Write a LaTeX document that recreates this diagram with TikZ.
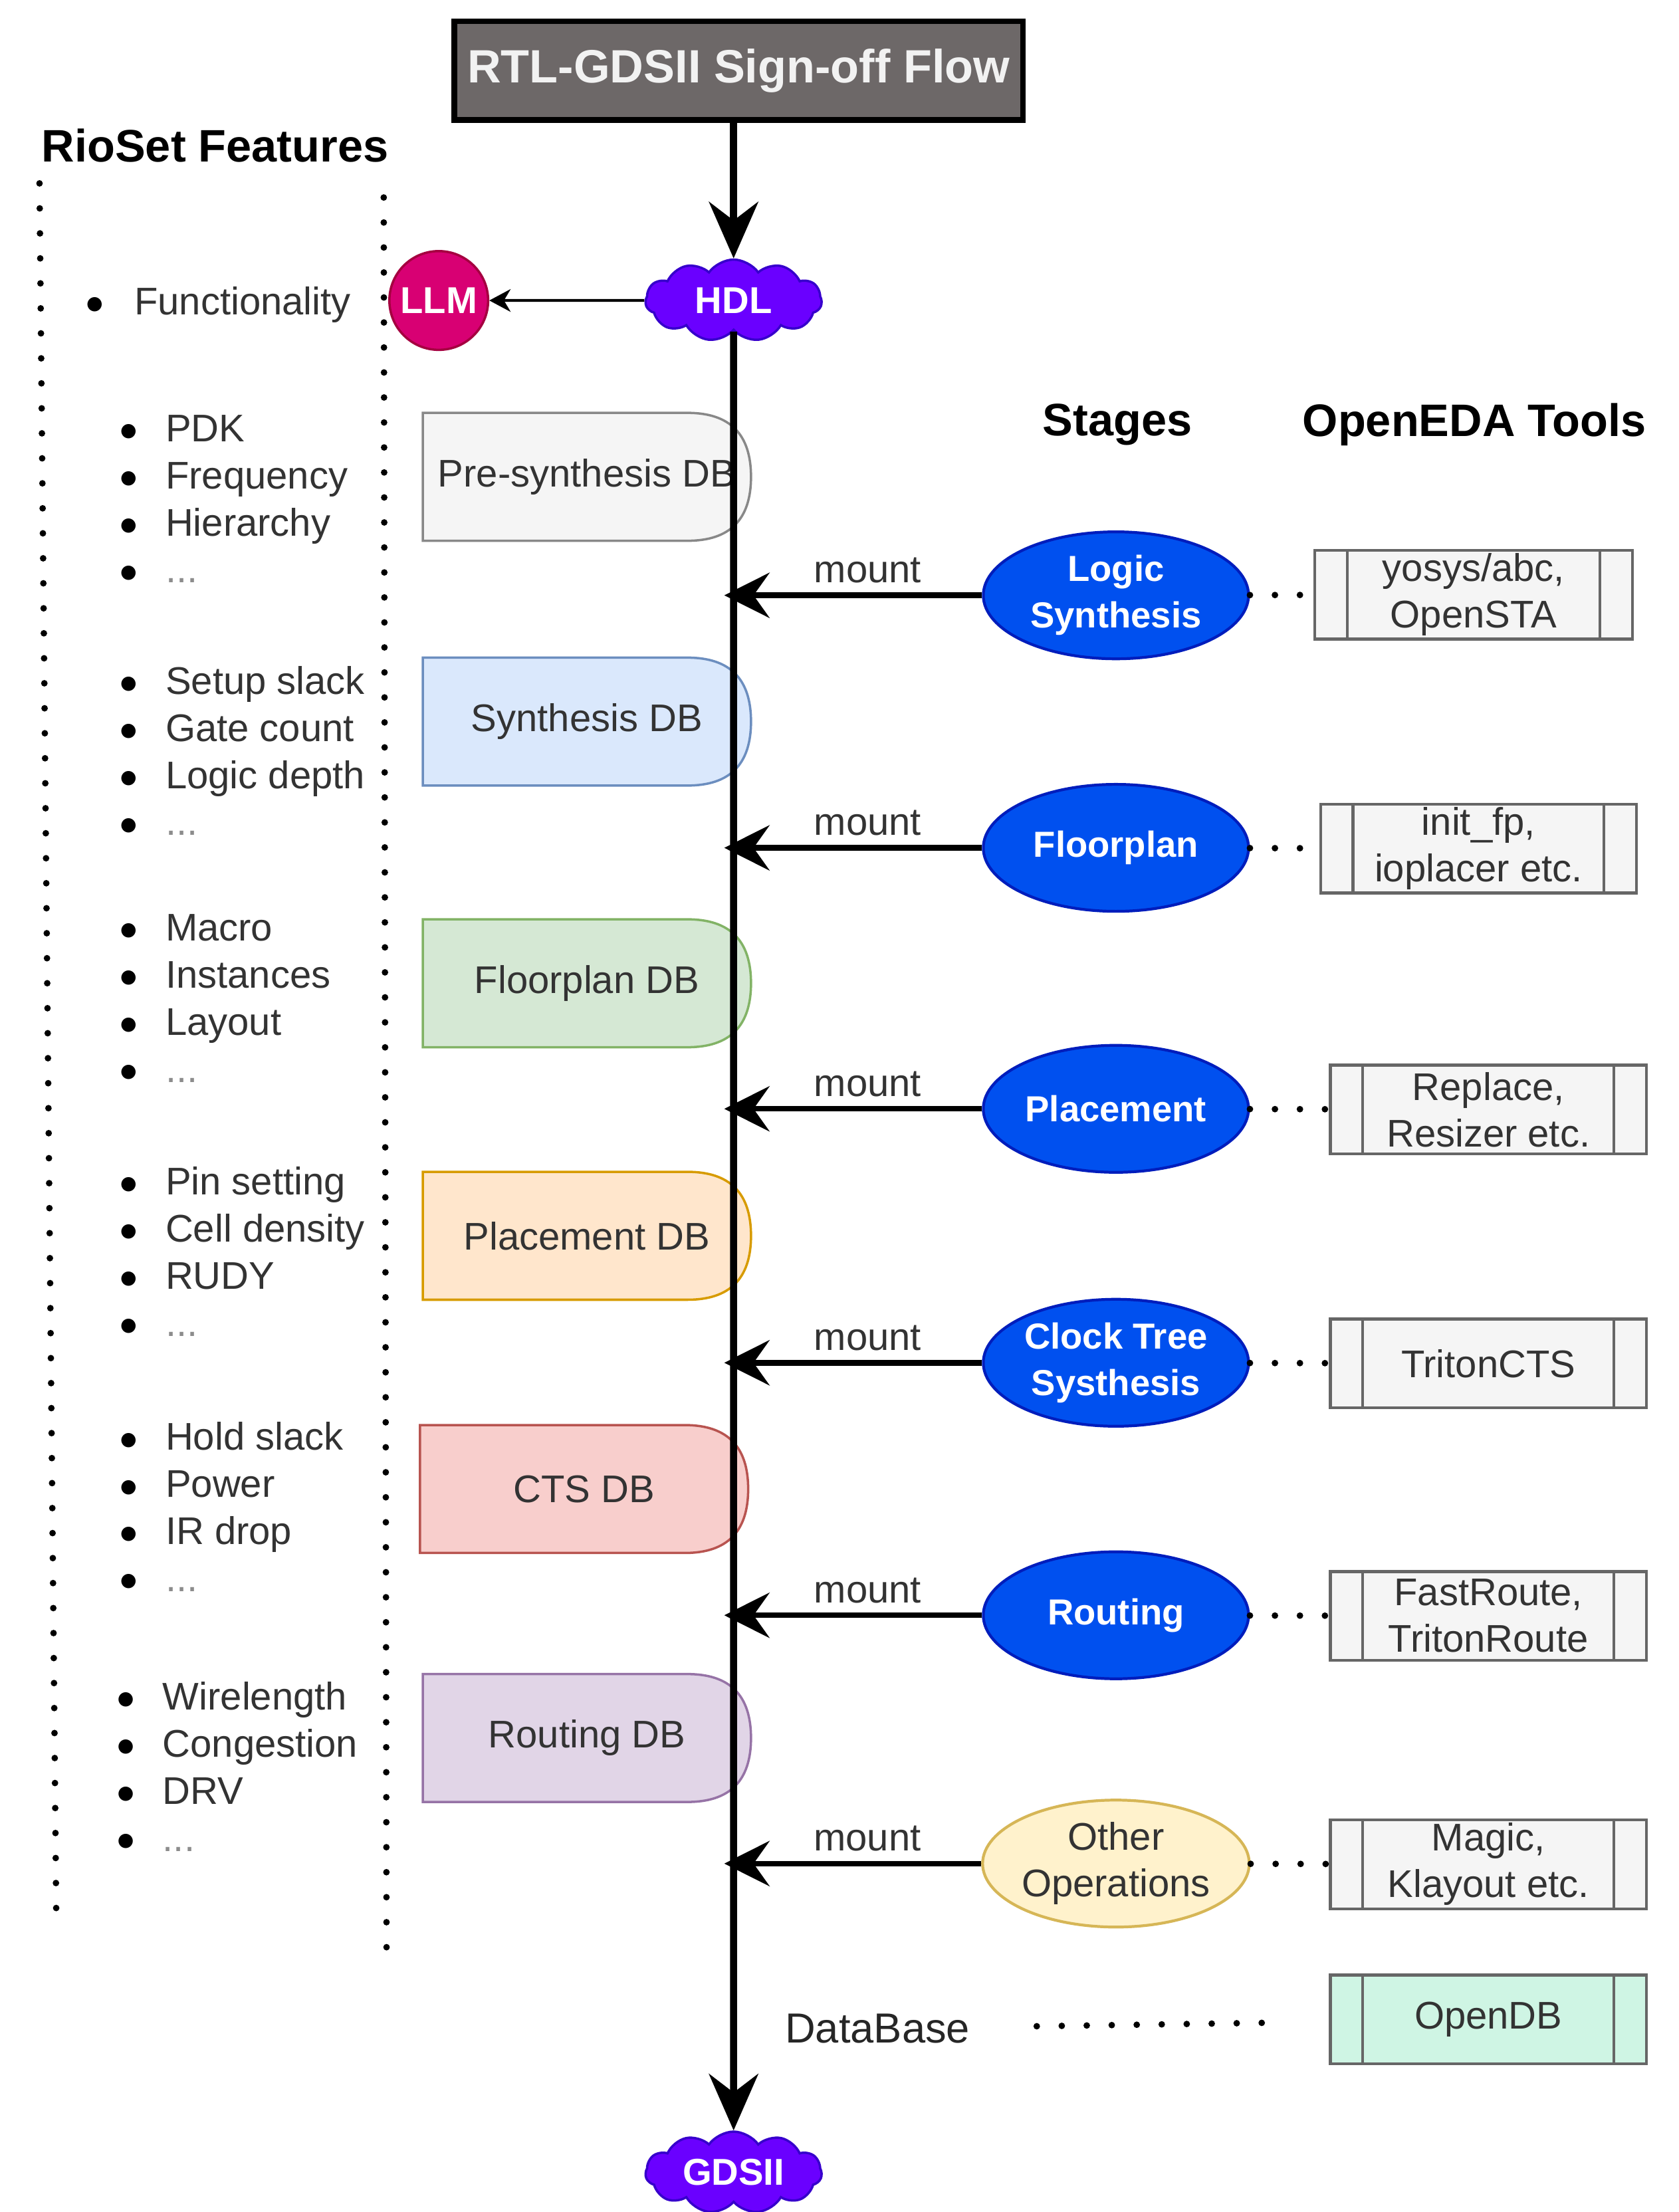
\documentclass[tikz,border=0pt]{standalone}
\usepackage{fontspec}
\setmainfont{Liberation Sans}
\newfontfamily\dejavu{DejaVu Sans}
\usetikzlibrary{arrows.meta,shapes.geometric,shapes.symbols,calc,backgrounds}

\definecolor{titlefill}{HTML}{6D6868}
\definecolor{titletext}{HTML}{F2F2F2}
\definecolor{hdlfill}{HTML}{6A00FF}
\definecolor{hdldraw}{HTML}{3700CC}
\definecolor{llmfill}{HTML}{D80073}
\definecolor{llmdraw}{HTML}{A50040}
\definecolor{stgfill}{HTML}{0050EF}
\definecolor{stgdraw}{HTML}{001DBC}
\definecolor{oofill}{HTML}{FFF2CC}
\definecolor{oodraw}{HTML}{D6B656}
\definecolor{toolfill}{HTML}{F5F5F5}
\definecolor{tooldraw}{HTML}{666666}
\definecolor{odbfill}{HTML}{CFF5E4}
\definecolor{txt}{HTML}{333333}
\definecolor{prefill}{HTML}{F5F5F5}\definecolor{predraw}{HTML}{888888}
\definecolor{synfill}{HTML}{DAE8FC}\definecolor{syndraw}{HTML}{6C8EBF}
\definecolor{fpfill}{HTML}{D5E8D4}\definecolor{fpdraw}{HTML}{82B366}
\definecolor{plfill}{HTML}{FFE6CC}\definecolor{pldraw}{HTML}{D79B00}
\definecolor{ctsfill}{HTML}{F8CECC}\definecolor{ctsdraw}{HTML}{B85450}
\definecolor{rtfill}{HTML}{E1D5E7}\definecolor{rtdraw}{HTML}{9673A6}

\newcommand\pxu{0.02122cm}
\newcommand\regfont{\fontsize{16.5}{19.9}\selectfont}
\newcommand\etcdots{\textcolor{black!45}{...}}
\newcommand\bigbul{\smash{\raisebox{2.2pt}{\dejavu\fontsize{8}{8}\selectfont\textcolor{black}{●}}}}
\newcommand\delayshape[3]{%
  \path[fill=#2, draw=#3, line width=1pt]
    (#1.north west) -- ($(#1.north east)+(-45,0)$)
    .. controls ($(#1.north east)+(-15,0)$) and ($(#1.north east)+(0,15)$) .. (#1.east)
    .. controls ($(#1.south east)+(0,-15)$) and ($(#1.south east)+(-15,0)$) .. ($(#1.south east)+(-45,0)$)
    -- (#1.south west) -- cycle;}

\tikzset{
  reg/.style={font=\regfont, text=txt},
  hdr/.style={font=\fontsize{19.5}{23}\selectfont\bfseries, text=black, inner sep=0},
  titlebox/.style={draw=black, line width=2.4pt, fill=titlefill, text=titletext,
    minimum width=403*\pxu, minimum height=70*\pxu, inner sep=0,
    font=\fontsize{20}{24}\selectfont\bfseries},
  cloudnode/.style={cloud, cloud puffs=11, cloud puff arc=110, cloud ignores aspect,
    fill=hdlfill, draw=hdldraw, line width=1pt, text=white, inner sep=0,
    minimum width=125*\pxu, minimum height=58*\pxu,
    font=\fontsize{16}{19}\selectfont\bfseries},
  llmnode/.style={circle, fill=llmfill, draw=llmdraw, line width=1pt, text=white,
    minimum size=70*\pxu, inner sep=0, font=\fontsize{16}{19}\selectfont\bfseries},
  dbnode/.style={rectangle, minimum width=232*\pxu, minimum height=90*\pxu, inner sep=0, reg},
  stage/.style={ellipse, minimum width=188*\pxu, minimum height=90*\pxu, inner sep=0,
    fill=stgfill, draw=stgdraw, line width=1.2pt, text=white, align=center,
    font=\fontsize{15.5}{19.9}\selectfont\bfseries},
  tool/.style={rectangle, minimum width=224*\pxu, minimum height=63*\pxu, inner sep=0,
    fill=toolfill, draw=tooldraw, line width=1.2pt, align=center, reg},
  feat/.style={reg, anchor=base west, inner sep=0},
  mainarrow/.style={line width=3pt, -{Stealth[length=0.85cm, width=0.74cm, inset=0.28cm]}},
  mountarrow/.style={line width=2.4pt, shorten >=-0.14cm,
    -{Stealth[length=0.68cm, width=0.68cm, inset=0.24cm]}},
  thinarrow/.style={line width=1.2pt, -{Stealth[length=0.32cm, width=0.34cm, inset=0.1cm]}},
  dotcon/.style={line width=2.8pt, line cap=round, dash pattern=on 0pt off 10.7pt},
}

\begin{document}
\begin{tikzpicture}[x=0.02122cm, y=-0.02122cm]
\useasboundingbox (0,0) rectangle (1190,1568);

% headers
\node[titlebox] (title) at (523.5,50) {RTL-GDSII Sign-off Flow};
\node[hdr] (rio) at (152.5,103) {RioSet Features};
\node[hdr] (stghdr) at (792,301) {Stages};
\node[hdr] (oedahdr) at (1045,301) {OpenEDA Tools};

% clouds and LLM
\node[cloudnode] (hdl) at (520,213) {HDL};
\node[cloudnode] (gds) at (520,1540) {GDSII};
\node[llmnode] (llm) at (311,213) {LLM};

% databases
\node[dbnode] (dbpre) at (416,338) {Pre-synthesis DB};
\node[dbnode] (dbsyn) at (416,511.5) {Synthesis DB};
\node[dbnode] (dbfp) at (416,697) {Floorplan DB};
\node[dbnode] (dbpl) at (416,876) {Placement DB};
\node[dbnode] (dbcts) at (414,1055.5) {CTS DB};
\node[dbnode] (dbrt) at (416,1232) {Routing DB};

\begin{scope}[on background layer]
\delayshape{dbpre}{prefill}{predraw}
\delayshape{dbsyn}{synfill}{syndraw}
\delayshape{dbfp}{fpfill}{fpdraw}
\delayshape{dbpl}{plfill}{pldraw}
\delayshape{dbcts}{ctsfill}{ctsdraw}
\delayshape{dbrt}{rtfill}{rtdraw}
\end{scope}

% stages
\node[stage] (ls) at (791,422) {Logic\\Synthesis};
\node[stage] (fp) at (791,601) {Floorplan};
\node[stage] (pl) at (791,786) {Placement};
\node[stage] (cts) at (791,966) {Clock Tree\\Systhesis};
\node[stage] (rt) at (791,1145) {Routing};
\node[stage, fill=oofill, draw=oodraw, text=txt, font=\regfont] (oo) at (791,1321) {Other\\Operations};

% tools
\node[tool, minimum width=225*\pxu] (t1) at (1044.5,421.5) {yosys/abc,\\OpenSTA};
\node[tool] (t2) at (1048,601.5) {init\_fp,\\ioplacer etc.};
\node[tool] (t3) at (1055,786.5) {Replace,\\Resizer etc.};
\node[tool] (t4) at (1055,966.5) {TritonCTS};
\node[tool] (t5) at (1055,1145.5) {FastRoute,\\TritonRoute};
\node[tool] (t6) at (1055,1321.5) {Magic,\\Klayout etc.};
\node[tool, fill=odbfill] (t7) at (1055,1431.5) {OpenDB};
\foreach \t in {t1,t2,t3,t4,t5,t6,t7}
  \draw[tooldraw, line width=1.2pt]
    ($(\t.north west)+(24,0)$) -- ($(\t.south west)+(24,0)$)
    ($(\t.north east)+(-24,0)$) -- ($(\t.south east)+(-24,0)$);

\node[reg, font=\fontsize{18}{21}\selectfont, text=black!85, inner sep=0] (dbl) at (622,1438) {DataBase};

% features
\node[feat] (f0) at (61,223) {\makebox[0.72cm][l]{\bigbul}Functionality};
\foreach \g/\bx/\by/\items in {
  1/85/303/{PDK,Frequency,Hierarchy,\etcdots},
  2/85/482/{Setup slack,Gate count,Logic depth,\etcdots},
  3/85/657/{Macro,Instances,Layout,\etcdots},
  4/85/837/{Pin setting,Cell density,RUDY,\etcdots},
  5/85/1018/{Hold slack,Power,IR drop,\etcdots},
  6/83/1202/{Wirelength,Congestion,DRV,\etcdots}}{
  \foreach \t [count=\i] in \items {
    \node[feat] (g\g-\i) at (\bx,{\by+10+(\i-1)*33.4}) {\makebox[0.68cm][l]{\bigbul}\t};
  }
}
\coordinate (fl1) at (28,130);
\coordinate (fl2) at (40,1370);
\coordinate (fr1) at (272,140);
\coordinate (fr2) at (274,1383);
\draw[dotcon] (fl1) -- (fl2);
\draw[dotcon] (fr1) -- (fr2);

% connectors
\draw[mainarrow] (title.south -| hdl.north) -- (hdl);
\draw[mainarrow] (hdl) -- (gds);
\draw[thinarrow] (hdl) -- (llm);
\foreach \s in {ls,fp,pl,cts,rt,oo}
  \draw[mountarrow] (\s) -- (\s -| hdl)
    node[pos=0.46, above=4pt, reg, inner sep=0] (m\s) {mount};
\draw[dotcon] (ls) -- (t1);
\draw[dotcon] (fp) -- (t2);
\draw[dotcon] (pl) -- (t3);
\draw[dotcon] (cts) -- (t4);
\draw[dotcon] (rt) -- (t5);
\draw[dotcon] (oo) -- (t6);
\draw[dotcon, shorten <=1cm, shorten >=0.76cm] (dbl) -- (t7);
\end{tikzpicture}
\end{document}
